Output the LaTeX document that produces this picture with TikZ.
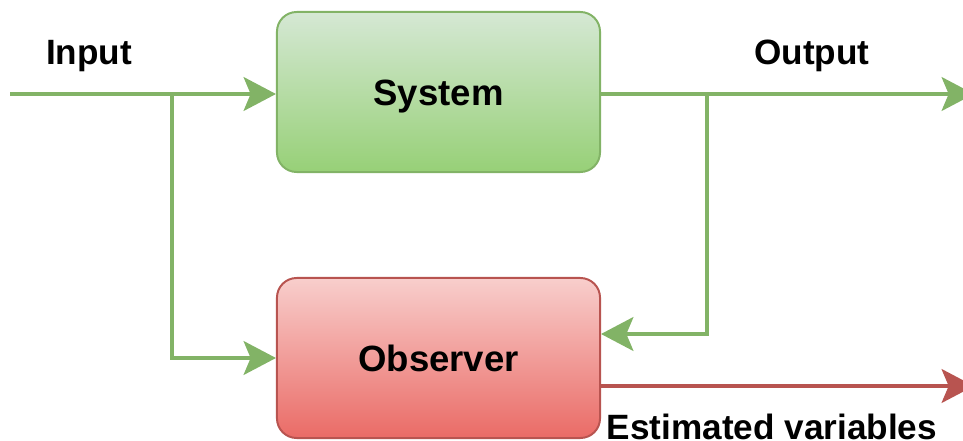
\documentclass[tikz,border=0pt]{standalone}
\usepackage{fontspec}
\setmainfont{Liberation Sans}
\usetikzlibrary{arrows.meta}
\definecolor{grnline}{HTML}{82B366}
\definecolor{redline}{HTML}{B85450}
\definecolor{systop}{HTML}{D5E8D4}
\definecolor{sysbot}{HTML}{97D077}
\definecolor{obstop}{HTML}{F8CECC}
\definecolor{obsbot}{HTML}{EA6B66}
\begin{document}
\begin{tikzpicture}[x=0.025cm,y=-0.025cm,
  block/.style={draw, line width=1.4pt, rounded corners=14pt,
    minimum width=8.075cm, minimum height=4cm,
    text height=19pt, text depth=0pt,
    font=\fontsize{26}{30}\selectfont\bfseries},
  lbl/.style={text height=18.2pt, text depth=0pt,
    font=\fontsize{25}{30}\selectfont\bfseries},
  flow/.style={draw=grnline, line width=2.8pt,
    -{Stealth[length=23pt,width=24pt,inset=5pt]}}]
\useasboundingbox (0,0) rectangle (963,441);

\node[block, draw=grnline, top color=systop, bottom color=sysbot] (sys) at (438.5,92) {System};
\node[block, draw=redline, top color=obstop, bottom color=obsbot] (obs) at (438.5,358) {Observer};

\coordinate (in) at (10,94);
\coordinate (splitin) at (172,94);
\coordinate (splitout) at (707,94);
\coordinate (out) at (974,94);
\coordinate (fb) at (707,334);
\coordinate (est) at (974,386);

\draw[flow] (in) -- (in -| sys.west);
\draw[flow] (splitin) |- (obs.west);
\draw[flow] (sys.east |- out) -- (out);
\draw[flow] (splitout) -- (fb) -- (fb -| obs.east);
\draw[flow, draw=redline] (obs.east |- est) -- (est);

\node[lbl] (inlbl) at (89,52) {Input};
\node[lbl] (outlbl) at (812,52) {Output};
\node[lbl, anchor=base] (estlbl) at (772,439) {Estimated variables};
\end{tikzpicture}
\end{document}
